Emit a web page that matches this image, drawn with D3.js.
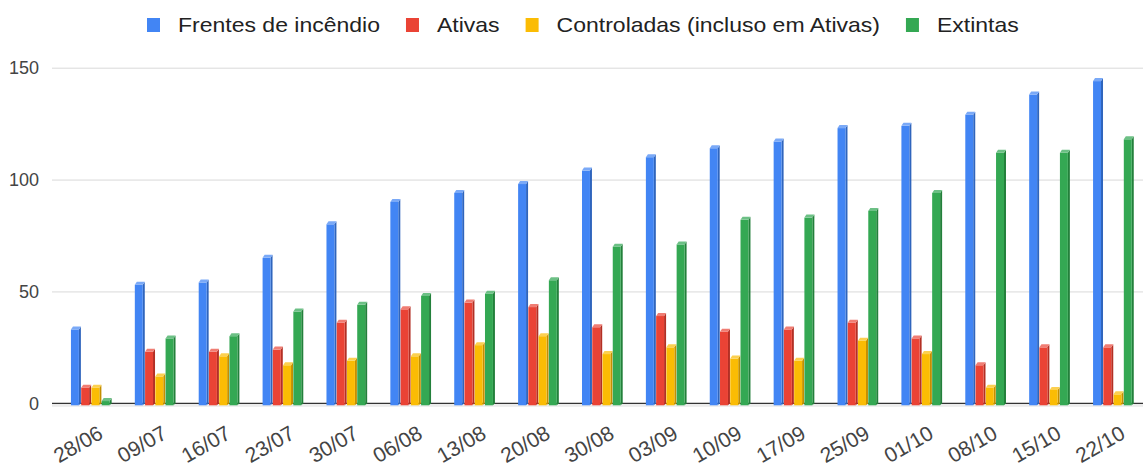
<!DOCTYPE html>
<html>
<head>
<meta charset="utf-8">
<script src="https://cdn.jsdelivr.net/npm/d3@7"></script>
<style>
  html, body { margin: 0; padding: 0; background: #fff; }
  svg { display: block; font-family: "Liberation Sans", Arial, sans-serif; }
</style>
</head>
<body>
<svg id="chart" width="1143" height="468"></svg>
<script>
const dates = ["28/06","09/07","16/07","23/07","30/07","06/08","13/08","20/08","30/08","03/09","10/09","17/09","25/09","01/10","08/10","15/10","22/10"];
const seriesNames = ["Frentes de incêndio","Ativas","Controladas (incluso em Ativas)","Extintas"];
const frentes     = [33,53,54,65,80,90,94,98,104,110,114,117,123,124,129,138,144];
const ativas      = [7,23,23,24,36,42,45,43,34,39,32,33,36,29,17,25,25];
const controladas = [7,12,21,17,19,21,26,30,22,25,20,19,28,22,7,6,4];
const extintas    = [1,29,30,41,44,48,49,55,70,71,82,83,86,94,112,112,118];
const yTicks = [0,50,100,150];

const seriesValues = [frentes, ativas, controladas, extintas];
const colors = ["#4285f4","#ea4335","#fbbc04","#34a853"];
const sideColors = ["#2f65bd","#b32f24","#c48f00","#23803b"];
const capColors = ["#7aa9f7","#f07d73","#fcd04f","#6cc085"];

const W = 1143, H = 468;
const plotLeft = 52, plotRight = 1143;
const svg = d3.select("#chart");

const y = d3.scaleLinear().domain([0,150]).range([403.3, 67.7]);
const x0 = d3.scaleBand().domain(dates).range([59.5, 1145.5]).padding(0);
const bw = x0.bandwidth();
const x1 = d3.scaleBand().domain(d3.range(seriesNames.length)).range([bw/2 - 20.5, bw/2 + 20.5]).padding(0);
const slot = x1.bandwidth();
const frontW = slot - 2.3;
const depthX = 2, depthY = 3;

// Gridlines + y tick labels
const yAxis = svg.append("g")
  .attr("transform", `translate(${plotLeft},0)`)
  .call(d3.axisLeft(y).tickValues(yTicks).tickSize(-(plotRight - plotLeft)).tickPadding(13).tickFormat(d3.format("d")));
yAxis.select(".domain").remove();
yAxis.selectAll(".tick line").attr("stroke", "#d9d9d9").attr("stroke-width", 1);
yAxis.selectAll(".tick text").attr("fill", "#444").attr("font-size", 18)
  .attr("font-family", "'Liberation Sans', Arial, sans-serif");
yAxis.selectAll(".tick").filter(d => d === 0).select("line").attr("stroke", "none");

// floor shading and baseline
svg.append("rect").attr("x", plotLeft).attr("y", y(0)).attr("width", plotRight - plotLeft).attr("height", 3.5).attr("fill", "#ececec");
svg.append("line").attr("x1", plotLeft).attr("x2", plotRight).attr("y1", y(0)).attr("y2", y(0))
  .attr("stroke", "#333").attr("stroke-width", 1.2);

// Bars
const base = y(0) + 2;
const groups = svg.append("g").selectAll("g")
  .data(dates).join("g")
  .attr("transform", d => `translate(${x0(d)},0)`);

seriesValues.forEach((vals, si) => {
  groups.each(function(d, i) {
    const g = d3.select(this);
    const v = vals[i];
    const a = x1(si);
    const top = y(v);
    g.append("polygon")
      .attr("points", [[a+frontW, top],[a+frontW+depthX, top-depthY],[a+frontW+depthX, base-depthY+1],[a+frontW, base]].map(p => p.join(",")).join(" "))
      .attr("fill", sideColors[si]);
    g.append("rect").attr("x", a).attr("y", top).attr("width", frontW).attr("height", Math.max(0, base - top))
      .attr("fill", colors[si]);
    g.append("polygon")
      .attr("points", [[a, top],[a+depthX, top-depthY],[a+frontW+depthX, top-depthY],[a+frontW, top]].map(p => p.join(",")).join(" "))
      .attr("fill", capColors[si]);
  });
});

// X axis labels
const xAxis = svg.append("g")
  .attr("transform", `translate(0,${y(0)})`)
  .call(d3.axisBottom(x0).tickSize(0));
xAxis.select(".domain").remove();
xAxis.selectAll(".tick text")
  .attr("x", 0).attr("y", 0).attr("dy", 0)
  .attr("text-anchor", "end")
  .attr("transform", "translate(13,34) rotate(-30)")
  .attr("fill", "#444").attr("font-size", 21)
  .attr("font-family", "'Liberation Sans', Arial, sans-serif");

// Legend
const legend = svg.append("g");
let lx = 147;
const stretch = 1.15;
seriesNames.forEach((name, i) => {
  const item = legend.append("g").attr("transform", `translate(${lx},0)`);
  item.append("rect").attr("x", 0).attr("y", 18).attr("width", 13).attr("height", 14).attr("fill", colors[i]);
  const t = item.append("text")
    .attr("transform", `translate(31,32.3) scale(${stretch},1)`)
    .attr("font-size", 20).attr("fill", "#222")
    .text(name);
  const tw = t.node().getComputedTextLength() * stretch;
  lx += 31 + tw + 26;
});
</script>
</body>
</html>
